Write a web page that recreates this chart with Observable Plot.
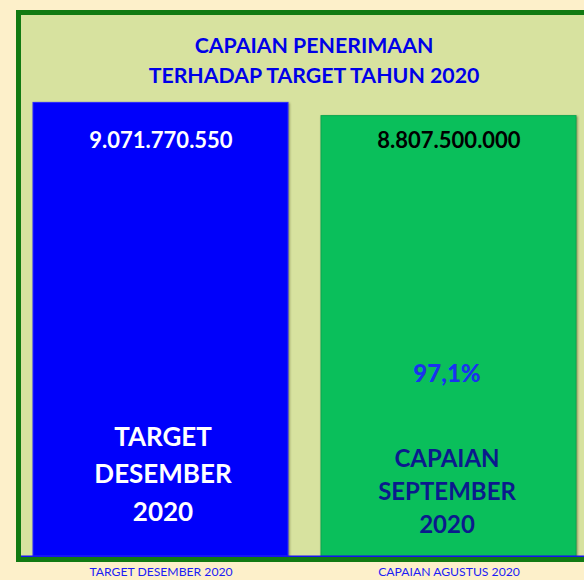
<!DOCTYPE html>
<html>
<head>
<meta charset="utf-8">
<script src="https://cdn.jsdelivr.net/npm/d3@7"></script>
<script src="https://cdn.jsdelivr.net/npm/@observablehq/plot@0.6"></script>
<style>
  html, body { margin: 0; padding: 0; background: #fdf0ca; }
  #chart { width: 584px; height: 580px; overflow: hidden; position: relative; }
  #chart svg { display: block; max-width: none !important; }
  g[aria-label="bar"] rect { filter: drop-shadow(1px 1px 1px rgba(60,60,20,0.55)); }
</style>
</head>
<body>
<div id="chart"></div>
<script>
// ---- data ----
const categories = ["TARGET DESEMBER 2020", "CAPAIAN AGUSTUS 2020"];
const values = [9071770550, 8807500000];
const valueLabels = ["9.071.770.550", "8.807.500.000"];
const barLabels = ["TARGET\nDESEMBER\n2020", "CAPAIAN\nSEPTEMBER\n2020"];
const percentLabels = ["", "97,1%"];
const titleLines = ["CAPAIAN PENERIMAAN", "TERHADAP TARGET TAHUN 2020"];

// ---- styles ----
const barColors = ["#0000fb", "#0abf5b"];
const barStrokes = ["#2a2aff", "#0aa850"];
const valueColors = ["#ffffff", "#000000"];
const labelColors = ["#ffffff", "#0b1a8c"];

const table = categories.map((c, i) => ({
  category: c,
  value: values[i],
  valueLabel: valueLabels[i],
  barLabel: barLabels[i],
  pct: percentLabels[i],
  fill: barColors[i],
  stroke: barStrokes[i],
  valueColor: valueColors[i],
  labelColor: labelColors[i]
}));

const font = "Lato, 'Open Sans', sans-serif";

const chart = Plot.plot({
  width: 600,
  height: 580,
  marginLeft: 18,
  marginRight: 9,
  marginTop: 12,
  marginBottom: 24,
  style: { background: "transparent", fontFamily: font, maxWidth: "none" },
  x: { domain: categories, paddingInner: 0.115, paddingOuter: 0.052, label: null, tickSize: 0, tickPadding: 10 },
  y: { domain: [0, 10.88e9], axis: null },
  color: { type: "identity" },
  marks: [
    Plot.frame({ fill: "#d7e29f" }),
    Plot.barY(table, { x: "category", y: "value", fill: "fill", stroke: "stroke", strokeWidth: 1 }),
    Plot.ruleY([0], { stroke: "#1414f0", strokeWidth: 2 }),
    Plot.axisX({ tickSize: 0, tickPadding: 11, fill: "#1c1cf5", fontSize: 12.2, fontFamily: font, label: null }),
    Plot.text([titleLines.join("\n")], {
      text: d => d, frameAnchor: "top", lineAnchor: "middle", dy: 46, lineHeight: 1.42,
      dx: 9,
      fill: "#0000e8", fontWeight: "bold", fontSize: 21.3, fontFamily: font
    }),
    Plot.text(table, {
      x: "category", text: "valueLabel", frameAnchor: "top", lineAnchor: "middle", dy: 128,
      fill: "valueColor", fontWeight: "bold", fontSize: 22, fontFamily: font
    }),
    Plot.text(table, {
      x: "category", text: "pct", frameAnchor: "top", lineAnchor: "middle", dy: 362,
      dx: -2,
      fill: "#1a32f0", fontWeight: 900, fontSize: 24, fontFamily: font
    }),
    Plot.text(table.slice(0, 1), {
      x: "category", text: "barLabel", frameAnchor: "top", lineAnchor: "middle", dy: 459, lineHeight: 1.44,
      dx: 2,
      fill: "labelColor", fontWeight: "bold", fontSize: 26, fontFamily: font
    }),
    Plot.text(table.slice(1), {
      x: "category", text: "barLabel", frameAnchor: "top", lineAnchor: "middle", dy: 477, lineHeight: 1.38,
      dx: -2,
      fill: "labelColor", fontWeight: "bold", fontSize: 24, fontFamily: font
    }),
    Plot.frame({ stroke: "#117a12", strokeWidth: 5, insetBottom: -3 })
  ]
});

document.getElementById("chart").appendChild(chart);
</script>
</body>
</html>
